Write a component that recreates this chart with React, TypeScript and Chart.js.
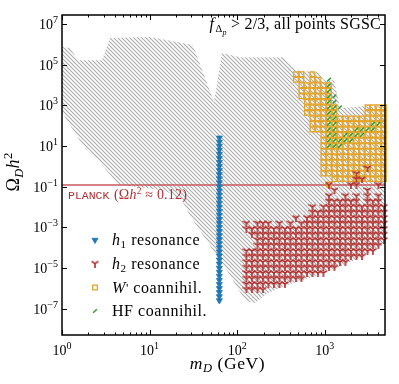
import React, { useEffect, useRef } from 'react';
import { Chart, registerables } from 'chart.js';
import { drawPoint } from 'chart.js/helpers';

Chart.register(...registerables);

// ---------- axis ranges (log10) and ticks ----------
const X_MIN_LOG = 0;
const X_MAX_LOG = 3.687;
const Y_MIN_LOG = -8.3;
const Y_MAX_LOG = 7.444;
const xMajorDecades = [0, 1, 2, 3];
const xMinorMultipliers = [2, 3, 4, 5, 6, 7, 8, 9];
const yMajorExponents = [-7, -5, -3, -1, 1, 3, 5, 7];

const PLANCK_OMEGA = 0.12;

// ---------- gray region: all points (outline, log10 m_D, log10 Omega h^2) ----------
const grayLogMass = [0.0, 0.091, 0.183, 0.457, 0.548, 1.005, 1.495, 1.735, 1.826, 2.032, 2.523, 2.671, 2.922, 2.991, 3.105, 3.174, 3.436, 3.699, 3.699, 3.63, 3.402, 3.116, 2.831, 2.546, 2.352, 2.203, 2.1, 2.009, 1.872, 1.712, 1.575, 1.461, 1.37, 1.176, 0.639, 0.434, 0.263, 0.091, 0.0];
const grayLogOmega = [5.865, 5.815, 5.223, 5.223, 6.309, 6.358, 5.963, 3.15, 5.569, 5.371, 5.371, 4.73, 4.631, 4.236, 4.236, 2.854, 2.953, 2.953, -3.76, -3.958, -4.501, -5.044, -5.488, -5.883, -6.228, -6.722, -6.623, -6.031, -5.043, -4.056, -3.168, -2.428, -1.687, -1.193, -0.897, 0.189, 0.88, 2.015, 2.657];

// ---------- h1 resonance column ----------
const h1Mass = 62.5;
const h1LogOmega = [1.4, 1.2, 1.0, 0.8, 0.6, 0.4, 0.2, 0.0, -0.2, -0.4, -0.6, -0.8, -1.0, -1.2, -1.4, -1.6, -1.8, -2.0, -2.2, -2.4, -2.6, -2.8, -3.0, -3.2, -3.4, -3.6, -3.8, -4.0, -4.2, -4.4, -4.6, -4.8, -5.0, -5.2, -5.4, -5.6, -5.8, -6.0, -6.2, -6.4, -6.6];

// ---------- scan grid (log10 values) ----------
const gridLogMass = [2.105, 2.168, 2.231, 2.293, 2.356, 2.419, 2.482, 2.545, 2.607, 2.67, 2.733, 2.796, 2.859, 2.921, 2.984, 3.047, 3.11, 3.173, 3.235, 3.298, 3.361, 3.424, 3.487, 3.549, 3.612, 3.675];
const gridLogOmega = [4.53, 4.259, 3.987, 3.716, 3.444, 3.173, 2.901, 2.63, 2.358, 2.087, 1.815, 1.544, 1.272, 1.001, 0.729, 0.458, 0.186, -0.086, -0.357, -0.629, -0.9, -1.172, -1.443, -1.715, -1.986, -2.258, -2.529, -2.801, -3.072, -3.344, -3.615, -3.887, -4.158, -4.43, -4.701, -4.973, -5.244, -5.516, -5.787, -6.059];

// h2 resonance cells (row strings over gridLogMass, starting at gridLogOmega[redFirstRow])
const redFirstRow = 17;
const redRows = [
  '......................#...',
  '....................#.....',
  '....................##....',
  '...............#...##...#.',
  '................#.....#...',
  '...............#..#.#.#.#.',
  '...............######.###.',
  '............#.############',
  '............##############',
  '.........#.###############',
  '#.###.#.#.################',
  '##########################',
  '.#########################',
  '..########################',
  '..#######################.',
  '########################..',
  '######################....',
  '###################.......',
  '#################.........',
  '###############...........',
  '###########...............',
  '########..................',
  '####......................',
];

// W' coannihilation cells
const yellowFirstRow = 0;
const yellowRows = [
  '.........##.#.............',
  '.........##.##............',
  '..........######..........',
  '..........######..........',
  '..........######..........',
  '...........#####..........',
  '...........######.....####',
  '...........######.....####',
  '............##############',
  '............##############',
  '............##############',
  '..............############',
  '..............############',
  '..............############',
  '..............############',
  '..............############',
  '..............############',
  '..............############',
  '..............############',
  '................##########',
  '...............#..........',
];

// HF coannihilation cells
const greenFirstRow = 1;
const greenRows = [
  '...............#..........',
  '...............#..........',
  '...............#..........',
  '...............##.........',
  '...............##.........',
  '...............###........',
  '...............##.........',
  '...............##.........',
  '...............##......##.',
  '...............##...####..',
  '...............##.####....',
  '...............#####......',
  '...............###........',
];

// ---------- styles ----------
const SERIF = '"Liberation Serif", "Times New Roman", serif';
const MONO = '"Liberation Mono", "Courier New", monospace';
const BLUE = '#1f77b4';
const RED = '#b22a2a';
const YELLOW = '#e3a62b';
const GREEN = '#2ca02c';
const GRAY = '#ababab';
const PLANCK_COLOR = '#c9585c';
const PLANCK_TEXT = '#b03035';

type Seg = { t: string; s: number; i?: boolean; dy?: number; f?: string };
const segFont = (g: Seg) => `${g.i ? 'italic ' : ''}${g.s}px ${g.f ?? SERIF}`;
function richWidth(ctx: CanvasRenderingContext2D, segs: Seg[], ls: number) {
  let w = 0;
  for (const g of segs) {
    ctx.font = segFont(g);
    w += ctx.measureText(g.t).width;
  }
  return w;
}
function drawRich(ctx: CanvasRenderingContext2D, segs: Seg[], x: number, y: number, align: 'left' | 'center' | 'right', ls = 0) {
  const anyCtx = ctx as any;
  anyCtx.letterSpacing = `${ls}px`;
  const w = richWidth(ctx, segs, ls);
  let cx = align === 'left' ? x : align === 'center' ? x - w / 2 : x - w;
  ctx.textAlign = 'left';
  ctx.textBaseline = 'alphabetic';
  for (const g of segs) {
    ctx.font = segFont(g);
    ctx.fillText(g.t, cx, y + (g.dy ?? 0));
    cx += ctx.measureText(g.t).width;
  }
  anyCtx.letterSpacing = '0px';
}
const fmtExp = (e: number) => (e < 0 ? '\u2212' + Math.abs(e) : String(e));

function maskPoints(rows: string[], firstRow: number) {
  const pts: { x: number; y: number }[] = [];
  rows.forEach((r, k) => {
    for (let i = 0; i < r.length; i++) {
      if (r[i] === '#') pts.push({ x: 10 ** gridLogMass[i], y: 10 ** gridLogOmega[firstRow + k] });
    }
  });
  return pts;
}

function makeTriDown(color: string) {
  const c = document.createElement('canvas');
  c.width = 8;
  c.height = 8;
  const g = c.getContext('2d')!;
  g.strokeStyle = color;
  g.lineWidth = 1.6;
  g.lineCap = 'butt';
  g.beginPath();
  g.moveTo(4, 4); g.lineTo(4, 8);
  g.moveTo(4, 4); g.lineTo(0.5, 1.9);
  g.moveTo(4, 4); g.lineTo(7.5, 1.9);
  g.stroke();
  return c;
}

export default function App() {
  const ref = useRef<HTMLCanvasElement>(null);

  useEffect(() => {
    const canvas = ref.current!;
    const ctx = canvas.getContext('2d')!;

    // hatch pattern for the gray region
    const tile = document.createElement('canvas');
    tile.width = 4;
    tile.height = 4;
    const tg = tile.getContext('2d')!;
    tg.strokeStyle = GRAY;
    tg.lineWidth = 1.1;
    tg.beginPath();
    tg.moveTo(-1, -1); tg.lineTo(5, 5);
    tg.moveTo(-1, 3); tg.lineTo(1, 5);
    tg.moveTo(3, -1); tg.lineTo(5, 1);
    tg.stroke();
    const pattern = ctx.createPattern(tile, 'repeat')!;

    const triDown = makeTriDown(RED);

    const grayPlugin = {
      id: 'grayRegion',
      beforeDatasetsDraw(chart: any) {
        const { ctx: c, chartArea: a, scales } = chart;
        c.save();
        c.beginPath();
        c.rect(a.left, a.top, a.right - a.left, a.bottom - a.top);
        c.clip();
        c.beginPath();
        grayLogMass.forEach((m, i) => {
          const px = scales.x.getPixelForValue(10 ** m);
          const py = scales.y.getPixelForValue(10 ** grayLogOmega[i]);
          if (i === 0) c.moveTo(px, py);
          else c.lineTo(px, py);
        });
        c.closePath();
        c.fillStyle = pattern;
        c.fill();
        c.restore();
      },
    };

    const decorPlugin = {
      id: 'decor',
      afterDatasetsDraw(chart: any) {
        const { ctx: c, chartArea: a, scales } = chart;
        const xs = scales.x;
        const ys = scales.y;
        c.save();
        // frame
        c.strokeStyle = '#000';
        c.lineWidth = 1.5;
        c.strokeRect(a.left, a.top, a.right - a.left, a.bottom - a.top);
        // ticks
        c.lineWidth = 1;
        c.beginPath();
        for (const d of xMajorDecades) {
          for (const m of [1, ...xMinorMultipliers]) {
            const v = m * 10 ** d;
            if (Math.log10(v) > X_MAX_LOG) continue;
            const px = Math.round(xs.getPixelForValue(v)) + 0.5;
            const len = m === 1 ? 5 : 2.5;
            c.moveTo(px, a.bottom); c.lineTo(px, a.bottom - len);
            c.moveTo(px, a.top); c.lineTo(px, a.top + len);
          }
        }
        for (const e of yMajorExponents) {
          const py = Math.round(ys.getPixelForValue(10 ** e)) + 0.5;
          c.moveTo(a.left, py); c.lineTo(a.left + 5, py);
          c.moveTo(a.right, py); c.lineTo(a.right - 5, py);
        }
        c.stroke();
        // tick labels
        c.fillStyle = '#000';
        for (const d of xMajorDecades) {
          const px = xs.getPixelForValue(10 ** d);
          drawRich(c, [{ t: '10', s: 14 }, { t: fmtExp(d), s: 10, dy: -6 }], px, 355, 'center');
        }
        for (const e of yMajorExponents) {
          const py = ys.getPixelForValue(10 ** e);
          drawRich(c, [{ t: '10', s: 14 }, { t: fmtExp(e), s: 10, dy: -6 }], 58, py + 5, 'right');
        }
        // axis titles
        drawRich(c, [{ t: 'm', s: 17.5, i: true }, { t: 'D', s: 12.5, i: true, dy: 3 }, { t: ' (GeV)', s: 17.5 }], (a.left + a.right) / 2 + 4, 369, 'center', 0.6);
        c.save();
        c.translate(19, (a.top + a.bottom) / 2 - 3);
        c.rotate(-Math.PI / 2);
        drawRich(c, [{ t: '\u03A9', s: 18 }, { t: 'D', s: 12.5, i: true, dy: 3.5 }, { t: 'h', s: 18, i: true }, { t: '2', s: 12.5, dy: -7 }], 0, 0, 'center', 0.3);
        c.restore();
        // annotation top right
        drawRich(c, [
          { t: 'f', s: 16, i: true },
          { t: ' ', s: 4 },
          { t: '\u0394', s: 10.5, dy: 3 },
          { t: 'p', s: 8, i: true, dy: 5.5 },
          { t: ' > 2/3, all points SGSC', s: 16 },
        ], 381, 29, 'right', 0.25);
        // Planck label
        c.fillStyle = PLANCK_TEXT;
        drawRich(c, [{ t: 'PLANCK', s: 11.5, f: MONO }], 68, 199, 'left');
        drawRich(c, [
          { t: '(', s: 14 },
          { t: '\u03A9', s: 14 },
          { t: 'h', s: 14, i: true },
          { t: '2', s: 9.5, dy: -5.5 },
          { t: ' \u2248 0.12)', s: 14 },
        ], 114, 199, 'left', 0.2);
        // legend
        const lx = 95;
        const tx = 112;
        const rows = [240, 263.5, 287.5, 311];
        c.fillStyle = BLUE; c.strokeStyle = BLUE; c.lineWidth = 0.8;
        drawPoint(c, { pointStyle: 'triangle', rotation: 180, radius: 3.5, borderWidth: 0.8 } as any, lx, rows[0]);
        drawPoint(c, { pointStyle: triDown, rotation: 0, radius: 4, borderWidth: 0 } as any, lx, rows[1]);
        c.fillStyle = 'rgba(255,255,255,1)'; c.strokeStyle = YELLOW; c.lineWidth = 1.3;
        drawPoint(c, { pointStyle: 'rect', rotation: 0, radius: 3.3, borderWidth: 1.3 } as any, lx, rows[2]);
        c.strokeStyle = GREEN; c.lineWidth = 1.5;
        drawPoint(c, { pointStyle: 'line', rotation: -45, radius: 2.6, borderWidth: 1.5 } as any, lx, rows[3]);
        c.fillStyle = '#000';
        const LS = 0.55;
        drawRich(c, [{ t: 'h', s: 16, i: true }, { t: '1', s: 11, dy: 3 }, { t: ' resonance', s: 16 }], tx, rows[0] + 5, 'left', LS);
        drawRich(c, [{ t: 'h', s: 16, i: true }, { t: '2', s: 11, dy: 3 }, { t: ' resonance', s: 16 }], tx, rows[1] + 5, 'left', LS);
        drawRich(c, [{ t: 'W', s: 16, i: true }, { t: "'", s: 13, dy: -1 }, { t: ' coannihil.', s: 16 }], tx, rows[2] + 5, 'left', LS);
        drawRich(c, [{ t: 'HF coannihil.', s: 16 }], tx, rows[3] + 5, 'left', LS);
        c.restore();
      },
    };

    const chart = new Chart(ctx, {
      type: 'scatter',
      data: {
        datasets: [
          {
            label: 'HF coannihil.',
            data: maskPoints(greenRows, greenFirstRow),
            pointStyle: 'line',
            pointRotation: -45,
            pointRadius: 2.6,
            pointHoverRadius: 2.6,
            pointBorderWidth: 1.5,
            pointBorderColor: GREEN,
            pointBackgroundColor: GREEN,
            showLine: false,
            clip: false,
            order: 1,
          } as any,
          {
            label: 'h2 resonance',
            data: maskPoints(redRows, redFirstRow),
            pointStyle: triDown,
            pointRadius: 4,
            pointHoverRadius: 4,
            showLine: false,
            clip: false,
            order: 2,
          } as any,
          {
            label: "W' coannihil.",
            data: maskPoints(yellowRows, yellowFirstRow),
            pointStyle: 'rect',
            pointRadius: 3.3,
            pointHoverRadius: 3.3,
            pointBorderWidth: 1.3,
            pointBorderColor: YELLOW,
            pointBackgroundColor: 'rgba(255,255,255,0)',
            showLine: false,
            clip: false,
            order: 3,
          } as any,
          {
            label: 'h1 resonance',
            data: h1LogOmega.map((o) => ({ x: h1Mass, y: 10 ** o })),
            pointStyle: 'triangle',
            pointRotation: 180,
            pointRadius: 3.5,
            pointHoverRadius: 3.5,
            pointBorderWidth: 0.8,
            pointBorderColor: BLUE,
            pointBackgroundColor: BLUE,
            showLine: false,
            order: 4,
          } as any,
          {
            type: 'line',
            label: 'Planck',
            data: [
              { x: 10 ** X_MIN_LOG, y: PLANCK_OMEGA },
              { x: 10 ** X_MAX_LOG, y: PLANCK_OMEGA },
            ],
            borderColor: PLANCK_COLOR,
            borderWidth: 1.4,
            pointRadius: 0,
            fill: false,
            order: 5,
          } as any,
        ],
      },
      options: {
        animation: false,
        responsive: false,
        devicePixelRatio: 1,
        layout: { padding: { left: 62, top: 15, right: 14, bottom: 49 } },
        scales: {
          x: { type: 'logarithmic', min: 10 ** X_MIN_LOG, max: 10 ** X_MAX_LOG, bounds: 'data', display: false } as any,
          y: { type: 'logarithmic', min: 10 ** Y_MIN_LOG, max: 10 ** Y_MAX_LOG, bounds: 'data', display: false } as any,
        },
        plugins: { legend: { display: false }, tooltip: { enabled: false } },
        events: [],
      },
      plugins: [grayPlugin, decorPlugin],
    });

    return () => chart.destroy();
  }, []);

  return (
    <div style={{ position: 'fixed', left: 0, top: 0, width: 399, height: 384, background: '#fff' }}>
      <canvas ref={ref} width={399} height={384} style={{ display: 'block', width: 399, height: 384 }} />
    </div>
  );
}
